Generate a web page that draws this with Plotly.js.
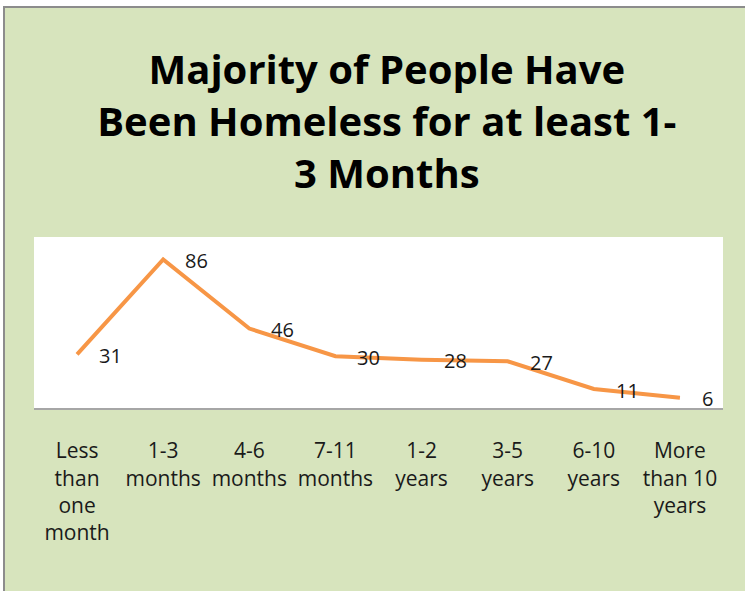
<!DOCTYPE html>
<html>
<head>
<meta charset="utf-8">
<script src="https://cdn.plot.ly/plotly-3.0.1.min.js"></script>
<style>
html,body{margin:0;padding:0;background:#ffffff;width:745px;height:591px;overflow:hidden;}
#frame{position:absolute;left:3px;top:6px;width:742px;height:585px;border-left:2px solid #8c8c8c;border-top:2px solid #8c8c8c;background:#D7E4BD;}
#chart{width:740px;height:583px;}
</style>
</head>
<body>
<div id="frame"><div id="chart"></div></div>
<script>
const categories = [
  "Less<br>than<br>one<br>month",
  "1-3<br>months",
  "4-6<br>months",
  "7-11<br>months",
  "1-2<br>years",
  "3-5<br>years",
  "6-10<br>years",
  "More<br>than 10<br>years"
];
const values = [31, 86, 46, 30, 28, 27, 11, 6];
const titleText = "Majority of People Have<br>Been Homeless for at least 1-<br>3 Months";

const trace = {
  type: "scatter",
  mode: "lines",
  x: categories,
  y: values,
  line: {color: "#F79646", width: 4},
  hoverinfo: "skip"
};

const annotations = categories.map((c, i) => ({
  x: c, y: values[i], xref: "x", yref: "y",
  text: String(values[i]), showarrow: false,
  xanchor: "left", yanchor: "middle", xshift: 20, yshift: -1,
  font: {family: "Open Sans, sans-serif", size: 20, color: "#1a1a1a"}
}));

const layout = {
  width: 740, height: 583,
  paper_bgcolor: "#D7E4BD",
  plot_bgcolor: "#ffffff",
  margin: {l: 29, r: 22, t: 229, b: 183},
  showlegend: false,
  title: {
    text: titleText,
    xref: "container", yref: "container",
    x: 0.516, y: 0.869, xanchor: "center", yanchor: "middle",
    font: {family: "Open Sans, sans-serif", size: 40, color: "#000000", weight: "bold"}
  },
  xaxis: {
    type: "category",
    range: [-0.5, 7.5],
    showgrid: false, zeroline: false,
    showline: true, linecolor: "#A6A6A6", linewidth: 2,
    ticks: "", ticklabelstandoff: 23,
    tickfont: {family: "Open Sans, sans-serif", size: 21, color: "#1a1a1a"},
    fixedrange: true
  },
  yaxis: {
    range: [0, 99],
    showgrid: false, zeroline: false, showline: false,
    showticklabels: false, ticks: "", fixedrange: true
  },
  annotations: annotations
};

Plotly.newPlot("chart", [trace], layout, {displayModeBar: false, staticPlot: true});
</script>
</body>
</html>
